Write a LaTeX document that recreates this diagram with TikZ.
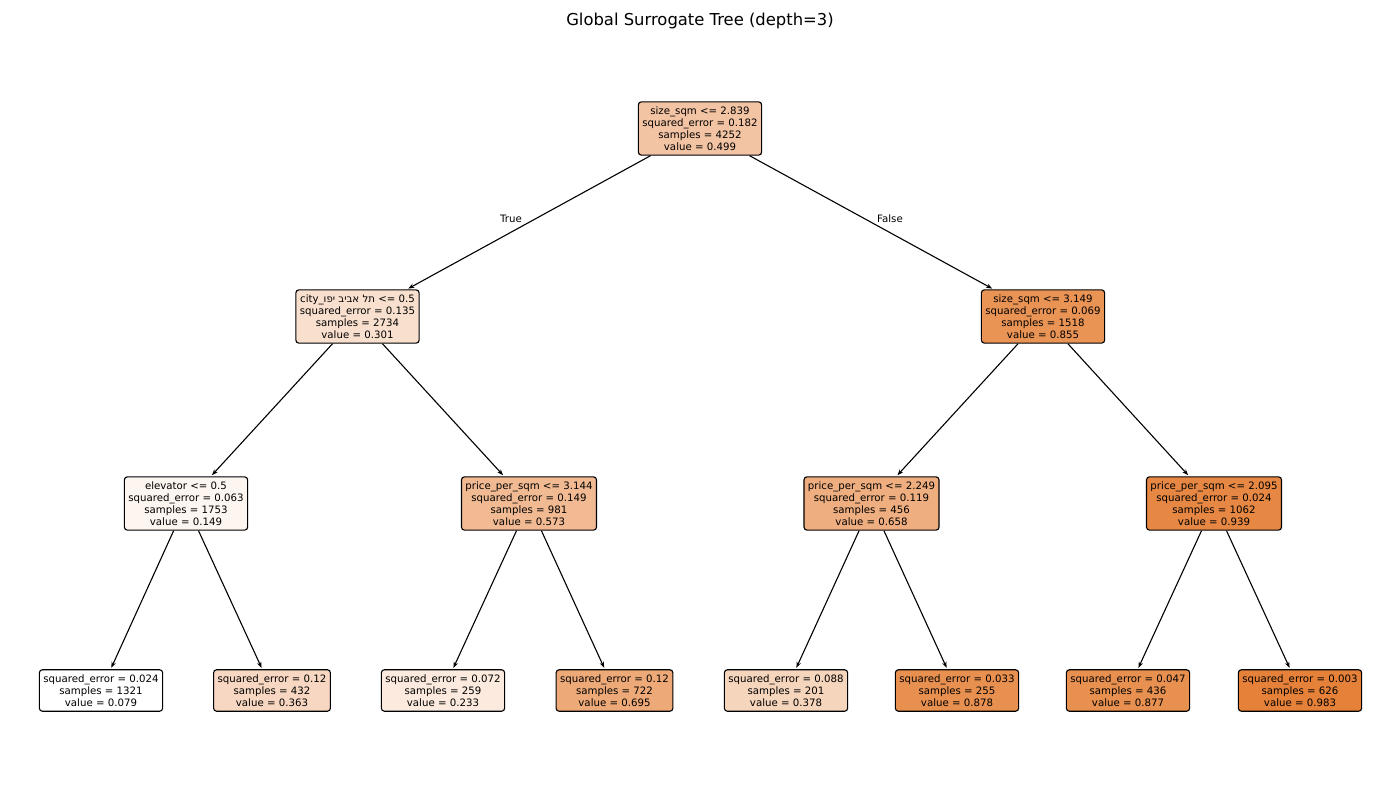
\documentclass[tikz,border=0pt]{standalone}
\usepackage{fontspec}
\setmainfont{DejaVu Sans}
\newfontfamily\hebfont[Script=Hebrew]{DejaVu Sans}
\TeXXeTstate=1
\usepackage{tikz}
\usetikzlibrary{arrows.meta}
\definecolor{treeorange}{RGB}{229,129,57}
\newcommand{\drawarrow}{\draw[line width=1.1pt, -{Stealth[length=6pt,width=4.5pt]}, shorten >=1.5pt]}
\tikzset{
    tbox/.style={draw, line width=1.1pt, rounded corners=3pt, fill=treeorange!#1!white,
        align=center, inner xsep=4pt, inner ysep=5pt,
        font=\fontsize{10.2}{11.8}\selectfont},
    branch/.style={font=\fontsize{10.2}{11.8}\selectfont}
}

\begin{document}
\begin{tikzpicture}[x=1pt, y=-1pt]
    \useasboundingbox[fill=white] (0, 0) rectangle (1400, 800);

    \node[font=\fontsize{16.4}{19}\selectfont] (title) at (700, 21) {Global Surrogate Tree (depth=3)};

    % Draw splits
    \node[tbox=46.5] (root) at (700, 128.5) {size\_sqm <= 2.839\\squared\_error = 0.182\\samples = 4252\\value = 0.499};
    \node[tbox=24.6] (city) at (357.5, 316.5) {city\_{\hebfont\beginR תל אביב יפו\endR} <= 0.5\\squared\_error = 0.135\\samples = 2734\\value = 0.301};
    \node[tbox=85.8] (size) at (1043, 316.5) {size\_sqm <= 3.149\\squared\_error = 0.069\\samples = 1518\\value = 0.855};
    \node[tbox=7.7] (elev) at (186, 503.5) {elevator <= 0.5\\squared\_error = 0.063\\samples = 1753\\value = 0.149};
    \node[tbox=54.6] (pricea) at (529, 503.5) {price\_per\_sqm <= 3.144\\squared\_error = 0.149\\samples = 981\\value = 0.573};
    \node[tbox=64.0] (priceb) at (871.5, 503.5) {price\_per\_sqm <= 2.249\\squared\_error = 0.119\\samples = 456\\value = 0.658};
    \node[tbox=95.1] (pricec) at (1214, 503.5) {price\_per\_sqm <= 2.095\\squared\_error = 0.024\\samples = 1062\\value = 0.939};

    % Draw leaves
    \node[tbox=0] (leaf1) at (101, 690.5) {squared\_error = 0.024\\samples = 1321\\value = 0.079};
    \node[tbox=31.4] (leaf2) at (272, 690.5) {squared\_error = 0.12\\samples = 432\\value = 0.363};
    \node[tbox=17.0] (leaf3) at (443, 690.5) {squared\_error = 0.072\\samples = 259\\value = 0.233};
    \node[tbox=68.1] (leaf4) at (614.5, 690.5) {squared\_error = 0.12\\samples = 722\\value = 0.695};
    \node[tbox=33.1] (leaf5) at (786, 690.5) {squared\_error = 0.088\\samples = 201\\value = 0.378};
    \node[tbox=88.4] (leaf6) at (957, 690.5) {squared\_error = 0.033\\samples = 255\\value = 0.878};
    \node[tbox=88.3] (leaf7) at (1128, 690.5) {squared\_error = 0.047\\samples = 436\\value = 0.877};
    \node[tbox=100] (leaf8) at (1300, 690.5) {squared\_error = 0.003\\samples = 626\\value = 0.983};

    % Draw edges
    \drawarrow (root) -- (city);
    \drawarrow (root) -- (size);
    \drawarrow (city) -- (elev);
    \drawarrow (city) -- (pricea);
    \drawarrow (size) -- (priceb);
    \drawarrow (size) -- (pricec);
    \drawarrow (elev) -- (leaf1);
    \drawarrow (elev) -- (leaf2);
    \drawarrow (pricea) -- (leaf3);
    \drawarrow (pricea) -- (leaf4);
    \drawarrow (priceb) -- (leaf5);
    \drawarrow (priceb) -- (leaf6);
    \drawarrow (pricec) -- (leaf7);
    \drawarrow (pricec) -- (leaf8);

    \node[branch] (true) at (511, 219) {True};
    \node[branch] (false) at (890, 219) {False};
\end{tikzpicture}
\end{document}
